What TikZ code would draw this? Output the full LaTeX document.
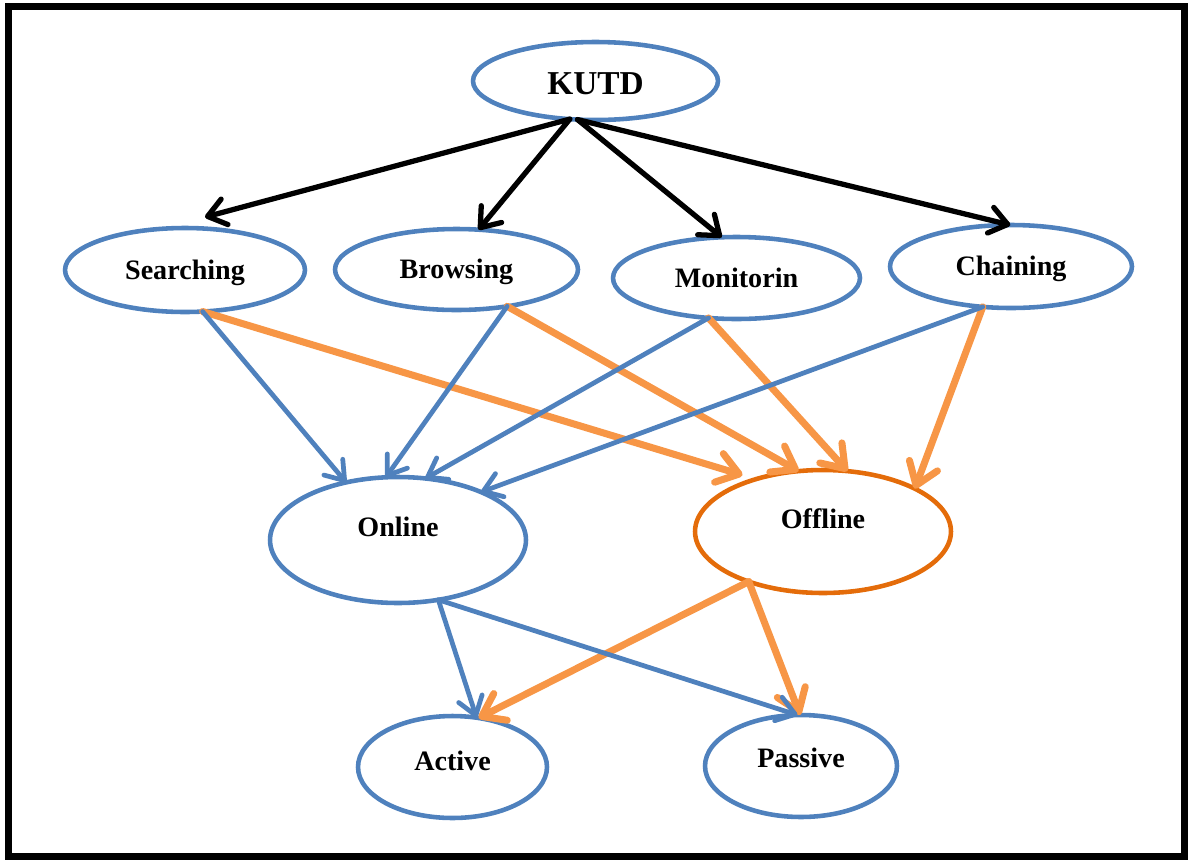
\documentclass[tikz,border=0pt]{standalone}
\usepackage{fontspec}
\setmainfont{Liberation Serif}
\usetikzlibrary{shapes.geometric,arrows.meta}
\definecolor{ovalblue}{HTML}{4F81BD}
\definecolor{arrorange}{HTML}{F79646}
\definecolor{offorange}{HTML}{E46C0A}
\tikzset{
  oval/.style={ellipse, draw=ovalblue, line width=2.6pt, inner sep=0pt, outer sep=0pt,
    font=\bfseries\fontsize{16}{19}\selectfont, text height=11pt, text depth=#1},
  oval/.default=0.4pt,
  blk/.style={draw=black, line width=3pt, line cap=round, -{Straight Barb[round,length=10pt,width=15pt]}},
  onl/.style={draw=ovalblue, line width=2.7pt, line cap=round, -{Straight Barb[round,length=10pt,width=14pt]}},
  offl/.style={draw=arrorange, line width=4pt, line cap=round, -{Straight Barb[round,length=12pt,width=17pt]}}
}
\begin{document}
\begin{tikzpicture}[x=0.02cm,y=-0.02cm]
\useasboundingbox (0,0) rectangle (1188,860);
\draw[line width=4pt] (8.5,6.5) rectangle (1184.5,856.5);

\node[oval, minimum width=4.9cm, minimum height=1.56cm, font=\bfseries\fontsize{19}{23}\selectfont,
  text height=15.4pt, text depth=0pt] (kutd) at (595.5,81) {KUTD};
\node[oval, minimum width=4.8cm, minimum height=1.68cm] (searching) at (185,270) {Searching};
\node[oval, minimum width=4.86cm, minimum height=1.62cm] (browsing) at (456.5,269.5) {Browsing};
\node[oval, minimum width=4.94cm, minimum height=1.64cm] (monitorin) at (736.5,278) {Monitorin};
\node[oval, minimum width=4.84cm, minimum height=1.66cm] (chaining) at (1011,266.5) {Chaining};
\node[oval=15.2pt, minimum width=5.12cm, minimum height=2.52cm] (online) at (398,540) {Online};
\node[oval=14.6pt, draw=offorange, minimum width=5.12cm, minimum height=2.46cm] (offline) at (823,531.5) {Offline};
\node[oval=7.2pt, minimum width=3.78cm, minimum height=2.04cm] (active) at (452.5,767) {Active};
\node[oval=9.4pt, minimum width=3.84cm, minimum height=2.04cm] (passive) at (801,766) {Passive};

\draw[offl, shorten >=8pt] (searching.293) -- (offline.142);
\draw[offl] (browsing.324) -- (offline.112);
\draw[offl] (monitorin.235) -- (offline.68);
\draw[offl] (chaining.235) -- (offline.25);
\draw[offl] (offline.214) -- (active.62);
\draw[offl] (offline.214) -- (passive.91);

\draw[onl] (searching.293) -- (online.132);
\draw[onl] (browsing.324) -- (online.101);
\draw[onl] (monitorin.235) -- (online.66);
\draw[onl] (chaining.235) -- (online.30);
\draw[onl] (online.304) -- (active.64);
\draw[onl] (online.304) -- (passive.94);

\draw[blk, shorten >=25.8pt] (kutd.236) -- (searching.120);
\draw[blk] (kutd.236) -- (browsing.61);
\draw[blk] (kutd.245) -- (monitorin.110);
\draw[blk] (kutd.245) -- (chaining.91);
\end{tikzpicture}
\end{document}
